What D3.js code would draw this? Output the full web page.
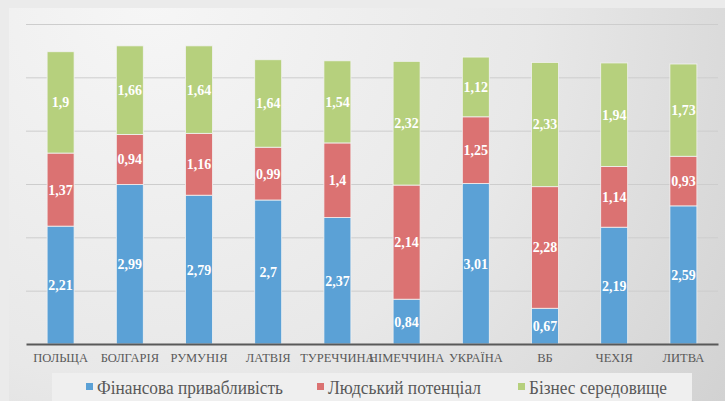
<!DOCTYPE html>
<html>
<head>
<meta charset="UTF-8">
<title>chart</title>
<script src="https://cdn.jsdelivr.net/npm/d3@7"></script>
<style>
  html, body { margin: 0; padding: 0; background: #ececec; }
  svg { display: block; }
</style>
</head>
<body>
<div id="chart"></div>
<script>
const countries = ["ПОЛЬЩА", "БОЛГАРІЯ", "РУМУНІЯ", "ЛАТВІЯ", "ТУРЕЧЧИНА", "НІМЕЧЧИНА", "УКРАЇНА", "ВБ", "ЧЕХІЯ", "ЛИТВА"];
const finance = [2.21, 2.99, 2.79, 2.7, 2.37, 0.84, 3.01, 0.67, 2.19, 2.59];
const human = [1.37, 0.94, 1.16, 0.99, 1.4, 2.14, 1.25, 2.28, 1.14, 0.93];
const business = [1.9, 1.66, 1.64, 1.64, 1.54, 2.32, 1.12, 2.33, 1.94, 1.73];
const seriesNames = ["Фінансова привабливість", "Людський потенціал", "Бізнес середовище"];
const colors = ["#5ba1d6", "#db7272", "#b6d07d"];
const yTicks = [0, 1, 2, 3, 4, 5, 6];

const width = 725, height = 401;
const marginLeft = 26, marginRight = 7, marginTop = 24, marginBottom = 57;
const serif = "'Liberation Serif', monospace";

const rows = countries.map((c, i) => ({country: c, 0: finance[i], 1: human[i], 2: business[i]}));
const stack = d3.stack().keys([0, 1, 2])(rows);

const x = d3.scaleBand()
    .domain(countries)
    .range([marginLeft, width - marginRight])
    .paddingInner(0.61)
    .paddingOuter(0.305);

const y = d3.scaleLinear()
    .domain([0, 6])
    .range([height - marginBottom, marginTop]);

const svg = d3.select("#chart").append("svg")
    .attr("width", width)
    .attr("height", height);

const defs = svg.append("defs");
const grad = defs.append("radialGradient")
    .attr("id", "bg")
    .attr("gradientUnits", "userSpaceOnUse")
    .attr("cx", 150).attr("cy", 0).attr("r", 700);
grad.append("stop").attr("offset", "0%").attr("stop-color", "#f6f6f6");
grad.append("stop").attr("offset", "55%").attr("stop-color", "#e8e8e8");
grad.append("stop").attr("offset", "100%").attr("stop-color", "#d2d2d2");

svg.append("rect")
    .attr("width", width).attr("height", height)
    .attr("fill", "#ebebeb");

svg.append("rect")
    .attr("x", 9).attr("y", 8)
    .attr("width", width - 9).attr("height", height - 8)
    .attr("fill", "url(#bg)");

// gridlines
svg.append("g")
    .selectAll("line")
    .data(yTicks.slice(1))
    .join("line")
    .attr("x1", marginLeft)
    .attr("x2", width - marginRight)
    .attr("y1", d => y(d) + 0.5)
    .attr("y2", d => y(d) + 0.5)
    .attr("stroke", "#cdcdcd")
    .attr("stroke-width", 1);

// bars
const layer = svg.append("g")
    .selectAll("g")
    .data(stack)
    .join("g")
    .attr("fill", (d, i) => colors[i]);

layer.selectAll("rect")
    .data(d => d)
    .join("rect")
    .attr("x", d => x(d.data.country))
    .attr("y", d => y(d[1]))
    .attr("width", x.bandwidth())
    .attr("height", d => y(d[0]) - y(d[1]))
    .attr("stroke", "#f2f2f2")
    .attr("stroke-width", 0.8);

// value labels
layer.selectAll("text")
    .data(d => d.map(v => ({v, key: d.key})))
    .join("text")
    .attr("x", d => x(d.v.data.country) + x.bandwidth() / 2)
    .attr("y", d => y((d.v[0] + d.v[1]) / 2))
    .attr("dy", "0.35em")
    .attr("text-anchor", "middle")
    .attr("fill", "#ffffff")
    .attr("font-weight", "bold")
    .attr("font-size", 14)
    .style("font-family", serif)
    .text(d => String(d.v.data[d.key]).replace(".", ","));

// x axis
svg.append("g")
    .attr("transform", `translate(0,${y(0)})`)
    .call(d3.axisBottom(x).tickSize(0).tickPadding(9))
    .call(g => g.select(".domain").attr("stroke", "#595959").attr("stroke-width", 2))
    .call(g => g.selectAll(".tick text")
        .attr("fill", "#595959")
        .attr("font-size", 12.5)
        .style("font-family", serif));

// legend
svg.append("rect")
    .attr("x", 52).attr("y", 373)
    .attr("width", 640).attr("height", 30)
    .attr("fill", "#efefef");

const legendX = [86, 317, 518];
const legendW = [186, 153, 138];
const legend = svg.append("g")
    .selectAll("g")
    .data(seriesNames)
    .join("g")
    .attr("transform", (d, i) => `translate(${legendX[i]},387)`);

legend.append("rect")
    .attr("y", -4).attr("width", 7).attr("height", 7)
    .attr("fill", (d, i) => colors[i]);

legend.append("text")
    .attr("x", 11)
    .attr("dy", "0.35em")
    .attr("fill", "#595959")
    .attr("font-size", 19)
    .attr("textLength", (d, i) => legendW[i])
    .attr("lengthAdjust", "spacingAndGlyphs")
    .style("font-family", serif)
    .text(d => d);
</script>
</body>
</html>
